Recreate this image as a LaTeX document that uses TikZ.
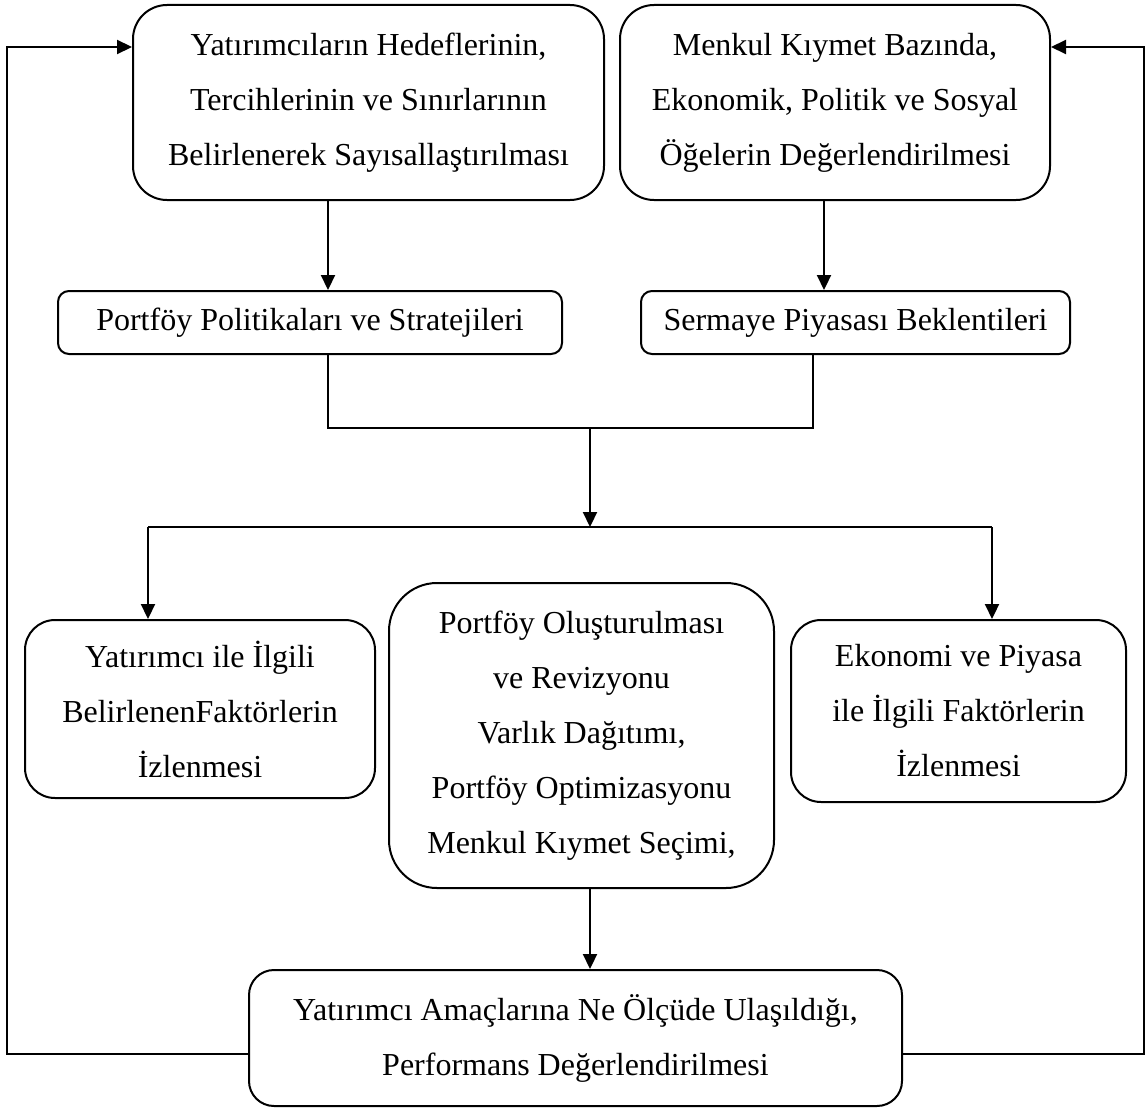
\documentclass[tikz,border=0pt]{standalone}
\usepackage{fontspec}
\setmainfont{Liberation Serif}
\usetikzlibrary{arrows.meta}

\tikzset{
  kutu/.style={draw, line width=2pt, align=center, inner sep=0pt,
    font=\fontsize{32}{55}\selectfont},
  ok/.style={line width=2.2pt, -{Triangle[length=15pt,width=14pt]}},
  hat/.style={line width=2pt}
}

\begin{document}
\begin{tikzpicture}[x=1pt,y=-1pt]
\useasboundingbox (0,0) rectangle (1145,1108);

\coordinate (hed) at (368.5,102.5);
\coordinate (men) at (835,102.5);
\coordinate (pol) at (310,322.5);
\coordinate (ser) at (855.5,322.5);
\coordinate (yat) at (200,709);
\coordinate (olu) at (581.5,735.5);
\coordinate (eko) at (958.5,711);
\coordinate (per) at (575.5,1038);

\node[kutu,rounded corners=34pt,minimum width=471pt,minimum height=195pt] (hed) at (hed)
  {Yatırımcıların Hedeflerinin,\\Tercihlerinin ve Sınırlarının\\Belirlenerek Sayısallaştırılması};
\node[kutu,rounded corners=34pt,minimum width=430pt,minimum height=195pt] (men) at (men)
  {Menkul Kıymet Bazında,\\Ekonomik, Politik ve Sosyal\\Öğelerin Değerlendirilmesi};
\node[kutu,rounded corners=11pt,minimum width=504pt,minimum height=63pt] (pol) at (pol)
  {Portföy Politikaları ve Stratejileri};
\node[kutu,rounded corners=11pt,minimum width=429pt,minimum height=63pt] (ser) at (ser)
  {Sermaye Piyasası Beklentileri};
\node[kutu,rounded corners=30pt,minimum width=350pt,minimum height=178pt] (yat) at (yat)
  {Yatırımcı ile İlgili\\BelirlenenFaktörlerin\\İzlenmesi};
\node[kutu,rounded corners=48pt,minimum width=385pt,minimum height=305pt] (olu) at (olu)
  {Portföy Oluşturulması\\ve Revizyonu\\Varlık Dağıtımı,\\Portföy Optimizasyonu\\Menkul Kıymet Seçimi,};
\node[kutu,rounded corners=30pt,minimum width=335pt,minimum height=182pt] (eko) at (eko)
  {Ekonomi ve Piyasa\\ile İlgili Faktörlerin\\İzlenmesi};
\node[kutu,rounded corners=25pt,minimum width=653pt,minimum height=136pt] (per) at (per)
  {Yatırımcı Amaçlarına Ne Ölçüde Ulaşıldığı,\\Performans Değerlendirilmesi};

% birlesme ve dallanma noktalari
\coordinate (sol) at (328,428);
\coordinate (sag) at (813,428);
\coordinate (orta) at (590,428);
\coordinate (dal) at (590,527);
\coordinate (dalsol) at (148,527);
\coordinate (dalsag) at (992,527);
\coordinate (ok2) at (824,0);
\coordinate (geriy) at (0,47);
\coordinate (gerisol) at (7,0);
\coordinate (gerisag) at (1144,0);
\coordinate (alty) at (0,1054);

\draw[ok] (hed.south -| sol) -- (pol.north -| sol);
\draw[ok] (men.south -| ok2) -- (ser.north -| ok2);

\draw[hat] (pol.south -| sol) -- (sol) -- (sag) -- (ser.south -| sag);
\draw[ok] (orta) -- (dal);
\draw[hat] (dalsol) -- (dalsag);
\draw[ok] (dalsol) -- (yat.north -| dalsol);
\draw[ok] (dalsag) -- (eko.north -| dalsag);
\draw[ok] (olu.south -| dal) -- (per.north -| dal);

% geri besleme
\draw[ok] (per.west |- alty) -- (gerisol |- alty) -- (gerisol |- geriy) -- (hed.west |- geriy);
\draw[ok] (per.east |- alty) -- (gerisag |- alty) -- (gerisag |- geriy) -- (men.east |- geriy);

\end{tikzpicture}
\end{document}
